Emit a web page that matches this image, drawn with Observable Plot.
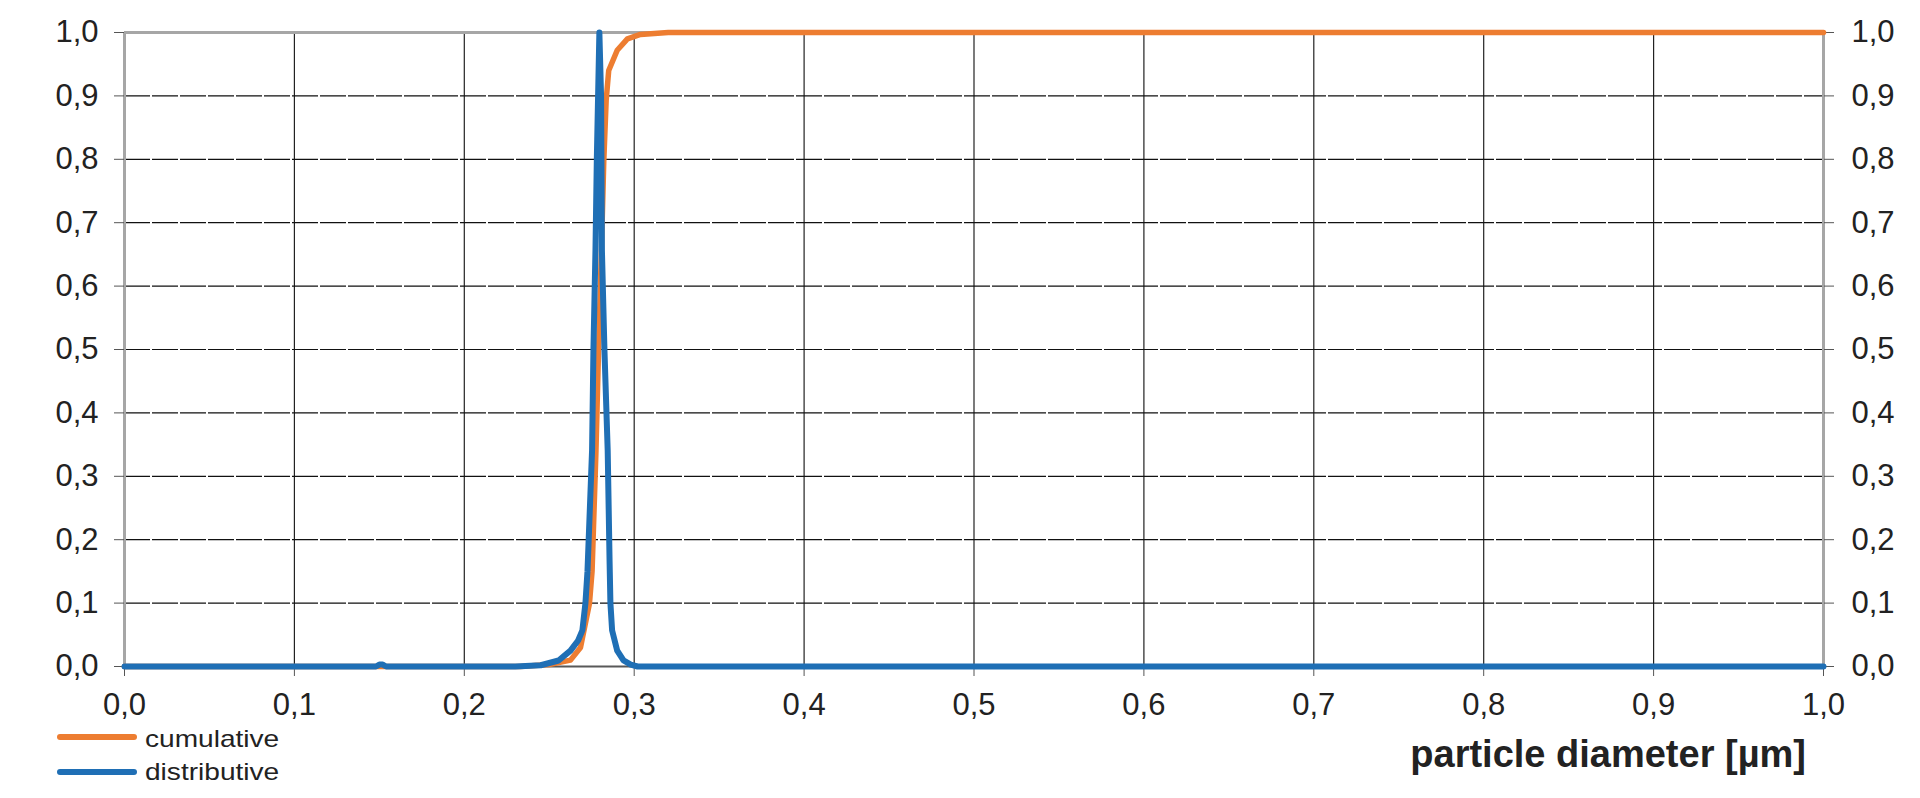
<!DOCTYPE html>
<html>
<head>
<meta charset="utf-8">
<script src="https://cdn.jsdelivr.net/npm/d3@7"></script>
<script src="https://cdn.jsdelivr.net/npm/@observablehq/plot@0.6"></script>
<style>
  html, body { margin: 0; padding: 0; background: #fff; }
  body { width: 1920px; height: 798px; overflow: hidden; font-family: "Liberation Sans", Arial, sans-serif; }
  #below { position: relative; width: 1920px; height: 76px; }
  .lg-line { position: absolute; left: 57px; width: 80px; height: 6px; border-radius: 3px; }
  .lg-text { position: absolute; left: 145px; font-size: 24px; line-height: 1; color: #222; transform: scaleX(1.17); transform-origin: left center; white-space: nowrap; }
  #xtitle { position: absolute; right: 114px; top: 13px; font-size: 38px; line-height: 1; font-weight: bold; color: #222; white-space: nowrap; }
</style>
</head>
<body>
<div id="chart"></div>
<div id="below"></div>
<script>
// ---- data ----
const xTicks = [0, 0.1, 0.2, 0.3, 0.4, 0.5, 0.6, 0.7, 0.8, 0.9, 1.0];
const yTicks = [0, 0.1, 0.2, 0.3, 0.4, 0.5, 0.6, 0.7, 0.8, 0.9, 1.0];

const cumulativeX = [0, 0.233, 0.25, 0.2625, 0.2684, 0.2737, 0.2752, 0.2775, 0.279, 0.2807, 0.2821, 0.2835, 0.285, 0.290, 0.296, 0.3037, 0.32, 1.0];
const cumulativeY = [0, 0, 0.003, 0.01, 0.03, 0.1, 0.15, 0.341, 0.498, 0.656, 0.798, 0.893, 0.94, 0.972, 0.99, 0.997, 1.0, 1.0];

const distributiveX = [0, 0.148, 0.150, 0.152, 0.154, 0.23, 0.245, 0.2555, 0.2625, 0.267, 0.2695, 0.2713, 0.2725, 0.2752, 0.276, 0.2772, 0.278, 0.2795, 0.2805, 0.281, 0.2825, 0.2844, 0.2855, 0.286, 0.287, 0.290, 0.2937, 0.298, 0.302, 1.0];
const distributiveY = [0, 0, 0.003, 0.003, 0, 0, 0.002, 0.0095, 0.025, 0.041, 0.057, 0.1, 0.15, 0.341, 0.498, 0.656, 0.8, 1.0, 0.9, 0.656, 0.498, 0.341, 0.167, 0.1, 0.057, 0.025, 0.0095, 0.003, 0, 0];

const seriesNames = ["cumulative", "distributive"];
const seriesColors = ["#ED7D31", "#1F6FB5"];
const xTitle = "particle diameter [µm]";

// ---- build tables ----
const cumulative = cumulativeX.map((x, i) => ({x, y: cumulativeY[i]}));
const distributive = distributiveX.map((x, i) => ({x, y: distributiveY[i]}));
const fmt = d => d.toFixed(1).replace(".", ",");
const inner = xTicks.filter(d => d > 0 && d < 1);

const chart = Plot.plot({
  width: 1920,
  height: 722,
  marginLeft: 124,
  marginRight: 97,
  marginTop: 32,
  marginBottom: 56,
  style: {fontFamily: "'Liberation Sans', Arial, sans-serif", fontSize: "31px", background: "#fff", overflow: "visible"},
  x: {domain: [0, 1]},
  y: {domain: [0, 1]},
  marks: [
    Plot.gridX(inner, {stroke: "#222", strokeOpacity: 1, strokeWidth: 1.2}),
    Plot.gridY(inner, {stroke: "#111", strokeOpacity: 1, strokeWidth: 1.2, strokeDasharray: "26,2"}),
    Plot.ruleY([1], {stroke: "#a6a6a6", strokeWidth: 3}),
    Plot.ruleX([0, 1], {stroke: "#a6a6a6", strokeWidth: 3}),
    Plot.ruleY([0], {stroke: "#595959", strokeWidth: 2}),
    Plot.axisX({ticks: xTicks, tickFormat: fmt, tickSize: 10, tickPadding: 16, stroke: "#555", fill: "#222", label: null}),
    Plot.axisY({anchor: "left", ticks: yTicks, tickFormat: fmt, tickSize: 10, tickPadding: 16, stroke: "#555", fill: "#222", label: null}),
    Plot.axisY({anchor: "right", ticks: yTicks, tickFormat: fmt, tickSize: 10, tickPadding: 18, stroke: "#555", fill: "#222", label: null}),
    Plot.line(cumulative, {x: "x", y: "y", stroke: seriesColors[0], strokeWidth: 5.5, strokeLinejoin: "round", strokeLinecap: "round"}),
    Plot.line(distributive, {x: "x", y: "y", stroke: seriesColors[1], strokeWidth: 6, strokeLinejoin: "round", strokeLinecap: "round"})
  ]
});
document.getElementById("chart").appendChild(chart);

// ---- legend and axis title below the SVG ----
const below = document.getElementById("below");
const lineTops = [12, 47];
const textTops = [5, 38];
seriesNames.forEach((name, i) => {
  const l = document.createElement("div");
  l.className = "lg-line";
  l.style.top = lineTops[i] + "px";
  l.style.background = seriesColors[i];
  below.appendChild(l);
  const t = document.createElement("div");
  t.className = "lg-text";
  t.style.top = textTops[i] + "px";
  t.textContent = name;
  below.appendChild(t);
});
const tt = document.createElement("div");
tt.id = "xtitle";
tt.textContent = xTitle;
below.appendChild(tt);
</script>
</body>
</html>
